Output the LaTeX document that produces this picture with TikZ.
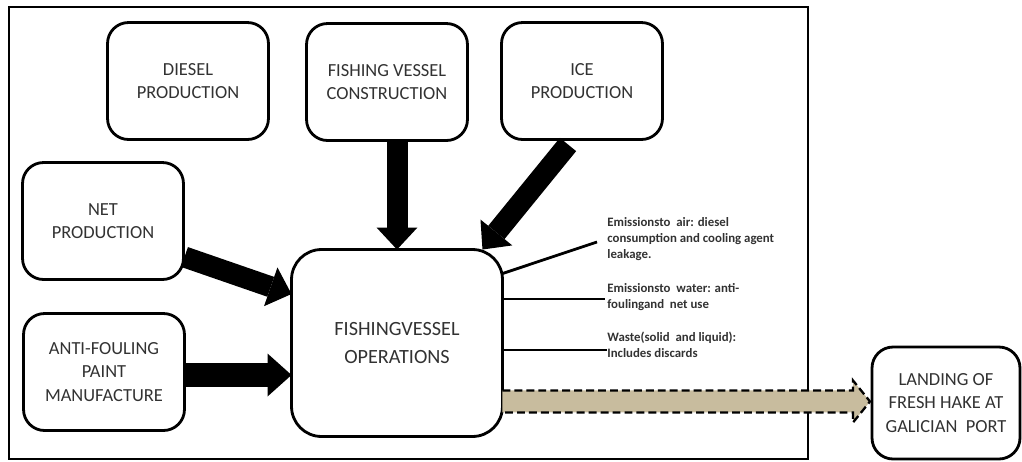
\documentclass[tikz,border=0pt]{standalone}
\usepackage{fontspec}
\setmainfont{Carlito}
\usepackage{xcolor}
\usepackage{tikz}
\usetikzlibrary{arrows.meta, positioning, calc}
\definecolor{haketan}{RGB}{200,188,158}
\definecolor{boxtext}{RGB}{50,50,50}

\begin{document}
\begin{tikzpicture}[
  x=0.02cm, y=-0.02cm,
  procbox/.style={draw=black, line width=1.6pt, rounded corners=0.42cm,
                  minimum width=3.22cm, minimum height=2.34cm,
                  inner sep=0pt, outer sep=0pt,
                  font=\fontsize{10.5}{13.3}\selectfont, text=boxtext, align=center},
  opsbox/.style={procbox, rounded corners=0.6cm,
                 minimum width=4.22cm, minimum height=3.74cm,
                 font=\fontsize{11.5}{15.5}\selectfont},
  landbox/.style={procbox, minimum width=2.96cm, minimum height=2.24cm,
                  font=\fontsize{10.5}{13.3}\selectfont},
  bigarrow/.style={line width=0.42cm,
                   -{Triangle[length=0.44cm, width=0.82cm, line width=0pt]}},
  outline/.style={line width=1.6pt},
  hakearrow/.style={fill=haketan, draw=black, line width=1.3pt,
                    dash pattern=on 4.5pt off 2.3pt},
  emission/.style={font=\fontsize{7.3}{9.3}\selectfont\bfseries, text=boxtext,
                   align=left, anchor=west, inner sep=0pt},
]
\useasboundingbox (0,0) rectangle (1022,461);

%% Frame round the fishing stage
\draw[line width=1.4pt] (9,7) rectangle (808,459);

%% Row 1: upstream production
\node[procbox] (diesel) at (188,81)  {DIESEL\\PRODUCTION};
\node[procbox] (fvc)    at (387,82)  {FISHING VESSEL\\CONSTRUCTION};
\node[procbox] (ice)    at (582,81)  {ICE\\PRODUCTION};

%% Column 0: net and paint
\node[procbox] (net)    at (103,221) {NET\\PRODUCTION};
\node[procbox] (anti)   at (104,372) {ANTI-FOULING\\PAINT\\MANUFACTURE};

%% Centre: vessel operations
\node[opsbox] (ops) at (397,343) {FISHINGVESSEL\\OPERATIONS};

%% Output
\node[landbox] (land) at (946,403) {LANDING OF\\FRESH HAKE AT\\GALICIAN~~PORT};

%% Input arrows
\draw[bigarrow] (ops.north |- fvc.south) -- (ops.north);
\draw[bigarrow] ($(ice.south)+(-14,5)$) -- ($(ops.north east)+(-20,0)$);
\draw[bigarrow] ($(net.east)+(1,36)$) -- ($(ops.west)+(0,-49)$);
\draw[bigarrow, line width=0.48cm,
      -{Triangle[length=0.48cm, width=0.86cm, line width=0pt]}]
  (anti.east |- 0,375) -- (ops.west |- 0,375);

%% Emissions
\node[emission] (air)   at (607,239) {Emissionsto~~air: diesel\\consumption and cooling agent\\leakage.};
\node[emission] (water) at (607,297) {Emissionsto~~water: anti-\\foulingand~~net use};
\node[emission] (waste) at (607,345) {Waste(solid~~and liquid):\\Includes discards};

\draw[outline] ($(ops.north east)+(0,24)$) -- ($(air.west)+(-10,3)$);
\draw[outline] (ops.east |- 0,299) -- ($(water.west)+(-2,2)$);
\draw[outline] (ops.east |- 0,350) -- (waste.west |- 0,350);

%% Hake landing arrow
\coordinate (dstart) at ($(ops.south east)+(0,-35)$);
\coordinate (dend)   at (dstart -| land.west);
\filldraw[hakearrow] (dstart) ++(0,-11) -- ($(dend)+(-19,-11)$)
  -- ($(dend)+(-19,-21)$) -- ($(dend)+(-2,0)$) -- ($(dend)+(-19,21)$)
  -- ($(dend)+(-19,11)$) -- ($(dstart)+(0,11)$);

\end{tikzpicture}
\end{document}
